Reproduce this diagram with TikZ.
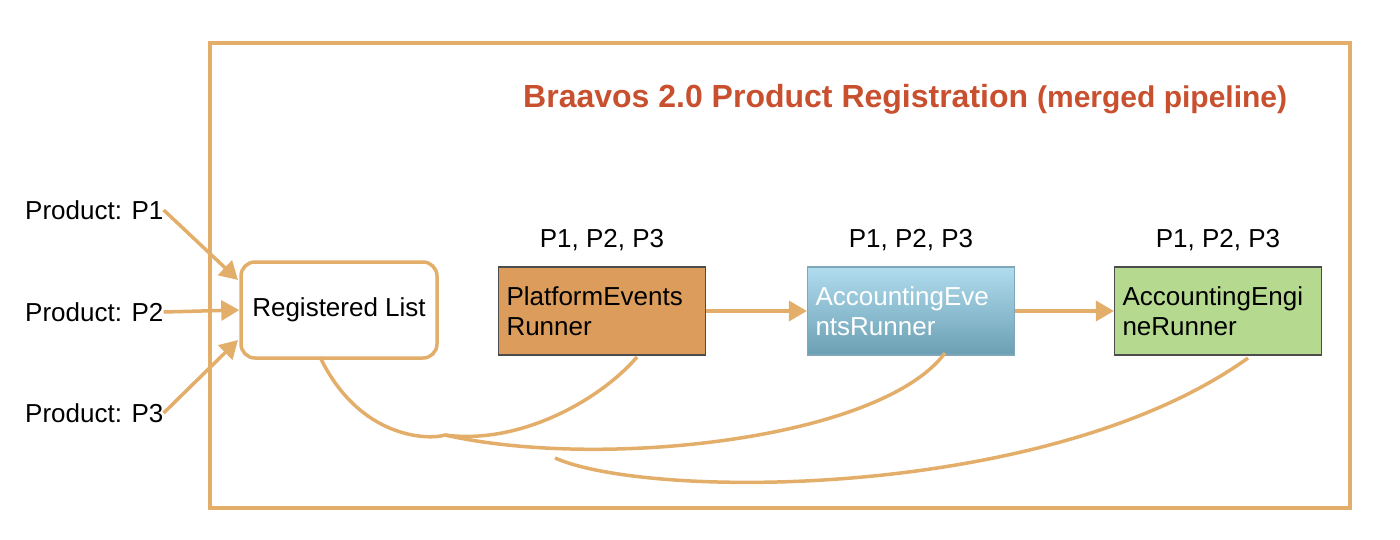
\documentclass[tikz,border=0pt]{standalone}
\usepackage{fontspec}
\setmainfont{Liberation Sans}
\usetikzlibrary{arrows.meta}
\definecolor{org}{HTML}{E3AE6A}
\definecolor{ttl}{HTML}{C8502F}
\definecolor{pef}{HTML}{DB9C5C}
\definecolor{aed}{HTML}{7FA7B8}
\definecolor{aet}{HTML}{B0DCEE}
\definecolor{aeb}{HTML}{6B9FB3}
\definecolor{agf}{HTML}{B5D98F}
\begin{document}
\begin{tikzpicture}[x=1pt,y=-1pt,
  lab/.style={font=\fontsize{26}{28}\selectfont,inner sep=0pt},
  box/.style={draw=black!70,line width=1.2pt,minimum width=205pt,minimum height=88pt,inner sep=8pt,font=\fontsize{26}{30}\selectfont,text width=191pt,align=left},
  arr/.style={draw=org,line width=3.5pt,-{Triangle[length=18pt,width=20pt]}},
  crv/.style={draw=org,line width=3.5pt}]
\useasboundingbox (0,0) rectangle (1400,540);
\draw[org,line width=3.5pt] (210,43) rectangle (1350,508);
\node[anchor=base west,inner sep=0pt,text=ttl,font=\bfseries\fontsize{32}{34}\selectfont] (title) at (523,108) {Braavos 2.0 Product Registration \fontsize{30}{32}\selectfont(merged pipeline)};
\node[lab,anchor=west] (p1) at (25,210) {Product: P1};
\node[lab,anchor=west] (p2) at (25,312) {Product: P2};
\node[lab,anchor=west] (p3) at (25,413) {Product: P3};
\node[draw=org,line width=3.5pt,rounded corners=14pt,minimum width=196pt,minimum height=96pt,font=\fontsize{26}{28}\selectfont] (rl) at (339,310) {Registered List};
\node[box,fill=pef] (pe) at (602,311) {PlatformEvents\\Runner};
\node[box,draw=aed,top color=aet,bottom color=aeb,text=white] (ae) at (911,311) {AccountingEve\\ntsRunner};
\node[box,fill=agf] (ag) at (1218,311) {AccountingEngi\\neRunner};
\node[lab] (l1) at (602,240) {P1, P2, P3};
\node[lab] (l2) at (911,240) {P1, P2, P3};
\node[lab] (l3) at (1218,240) {P1, P2, P3};
\draw[arr] (p1.east) -- (238,280);
\draw[arr] (p2.east) -- (rl.west);
\draw[arr] (p3.east) -- (238,340);
\draw[arr] (pe.east) -- (ae.west);
\draw[arr] (ae.east) -- (ag.west);
\coordinate (c1) at (445,435);
\coordinate (c2) at (555,458);
\draw[crv] (320,357) .. controls (360,440) and (430,440) .. (c1) .. controls (520,445) and (600,400) .. (637,357);
\draw[crv] (c1) .. controls (600,470) and (880,440) .. (945,353);
\draw[crv] (c2) .. controls (650,500) and (1050,500) .. (1248,358);
\end{tikzpicture}
\end{document}
